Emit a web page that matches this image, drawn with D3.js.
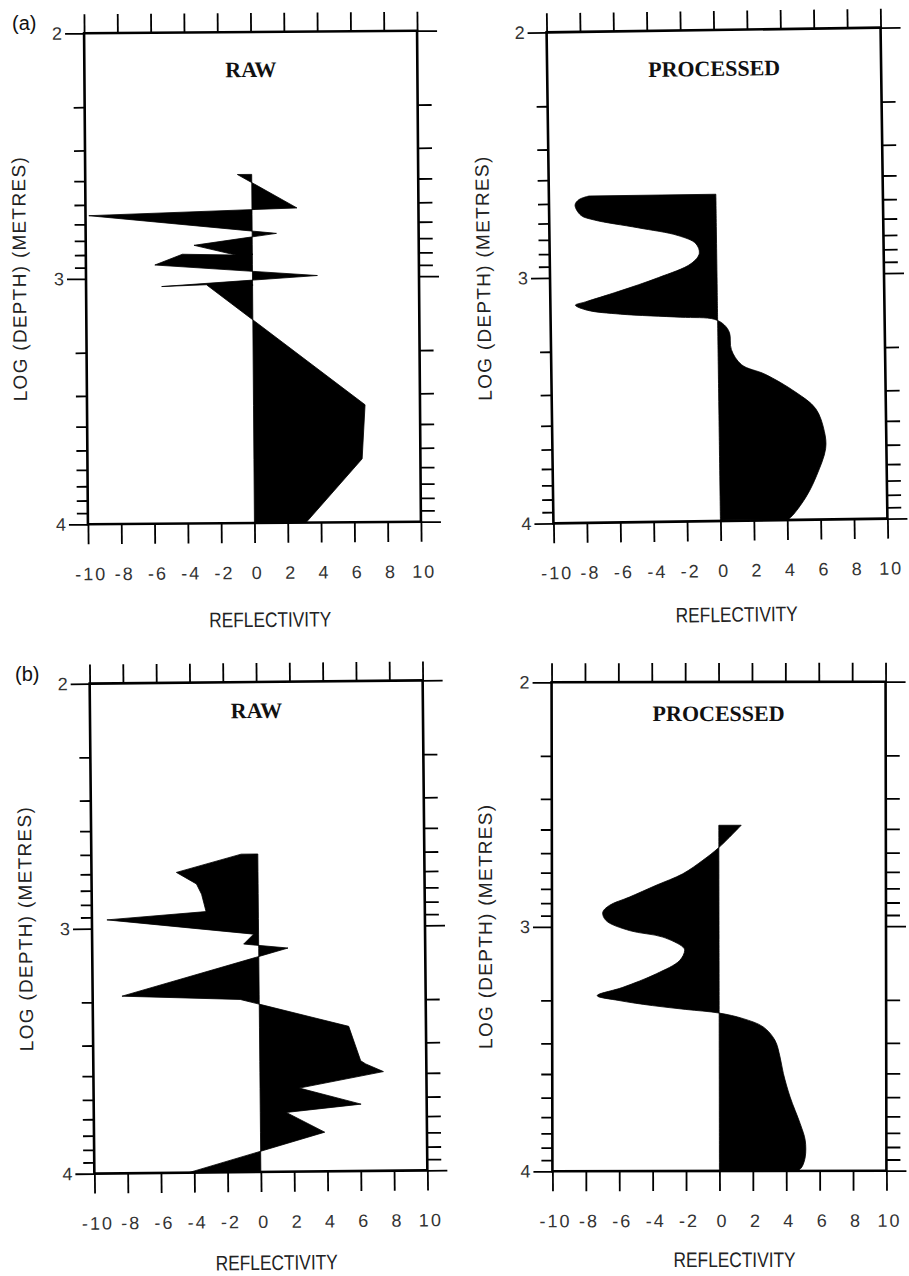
<!DOCTYPE html>
<html>
<head>
<meta charset="utf-8">
<script src="https://cdn.jsdelivr.net/npm/d3@7"></script>
<style>
  body { margin: 0; background: #fff; }
  svg { display: block; }
</style>
</head>
<body>
<div id="chart"></div>
<script>
(function (d3) {
    'use strict';

    // axis ticks
    var xTickVals = [-10, -8, -6, -4, -2, 0, 2, 4, 6, 8, 10];
    var xTickLabels = ['-10', '-8', '-6', '-4', '-2', '0', '2', '4', '6', '8', '10'];
    var yMajor = [2, 3, 4];
    var yMajorLabels = ['2', '3', '4'];
    var yDecades = [2, 3];
    var yMinorMult = [2, 3, 4, 5, 6, 7, 8, 9];

    // (a) raw reflectivity, log depth
    var rawADepth = [2.580, 2.718, 2.743, 2.821, 2.867, 2.908, 2.903, 2.946, 2.994, 3.034, 3.028, 3.522, 3.742, 4.000];
    var rawARefl  = [-0.86, 2.7, -9.8, 1.46, -3.5, -1.0, -4.2, -5.86, 3.9, -5.46, -2.77, 6.7, 6.5, 3.1];

    // (a) processed
    var procADepth = [2.669, 2.683, 2.705, 2.747, 2.767, 2.801, 2.835, 2.869, 2.909, 2.950, 3.005, 3.059, 3.100, 3.113,
        3.134, 3.152, 3.168, 3.178, 3.202, 3.234, 3.303, 3.365, 3.405, 3.479, 3.548, 3.642, 3.711, 3.820, 3.901, 3.976, 3.996];
    var procARefl  = [-7.6, -8.2, -8.44, -8.1, -7.3, -4.7, -2.3, -1.24, -1.04, -1.54, -3.5, -5.9, -7.9, -8.5,
        -7.8, -5.8, -2.2, -0.2, 0.4, 0.7, 0.8, 1.4, 2.8, 4.6, 5.8, 6.3, 6.36, 5.8, 5.2, 4.4, 4.1];

    // (b) raw
    var rawBDepth = [2.702, 2.774, 2.822, 2.864, 2.935, 2.965, 3.029, 3.069, 3.087, 3.277, 3.295, 3.409, 3.550, 3.563,
        3.595, 3.659, 3.727, 3.758, 3.840, 4.000];
    var rawBRefl  = [-1.0, -4.9, -3.7, -3.4, -3.14, -9.1, -0.3, -0.9, 1.76, -8.24, -1.14, 5.36, 6.06, 6.36,
        7.42, 2.36, 6.06, 1.56, 3.86, -4.34];

    // (b) processed
    var procBDepth = [2.586, 2.677, 2.729, 2.784, 2.831, 2.879, 2.913, 2.941, 2.975, 3.016, 3.043, 3.084, 3.098, 3.139,
        3.193, 3.248, 3.282, 3.302, 3.323, 3.339, 3.354, 3.377, 3.411, 3.466, 3.534, 3.602, 3.698, 3.807, 3.875,
        3.943, 3.984, 3.998];
    var procBRefl  = [1.34, 0, -0.96, -2.16, -3.76, -5.36, -6.56, -6.96, -6.76, -5.36, -3.36, -2.16, -2.06, -2.36,
        -3.76, -5.76, -7.3, -6.0, -4.0, -2.0, 0, 1.44, 2.64, 3.34, 3.64, 3.84, 4.24, 4.84, 5.14,
        5.14, 4.94, 4.74];

    var panels = [
        {left: 86,  right: 419, top: 32,  bottom: 523,  tilt: -0.45, title: 'RAW',       titleDy: 45, labelDy: 104, depth: rawADepth,  refl: rawARefl,  smooth: false},
        {left: 550, right: 884, top: 30,  bottom: 521,  tilt: -0.8,  title: 'PROCESSED', titleDy: 46, labelDy: 101, depth: procADepth, refl: procARefl, smooth: true},
        {left: 92,  right: 425, top: 682, bottom: 1172, tilt: -0.55, title: 'RAW',       titleDy: 36, labelDy: 98,  depth: rawBDepth,  refl: rawBRefl,  smooth: false},
        {left: 552, right: 886, top: 682, bottom: 1171, tilt: -0.1,  title: 'PROCESSED', titleDy: 39, labelDy: 96,  depth: procBDepth, refl: procBRefl, smooth: true}
    ];

    var letters = [
        {text: '(a)', x: 12, y: 30},
        {text: '(b)', x: 15, y: 681}
    ];

    var width = 909, height = 1276;
    var sans = '"Liberation Sans", Arial, Helvetica, sans-serif';

    var svg = d3.select('#chart').append('svg')
        .attr('width', width)
        .attr('height', height);

    svg.append('rect').attr('width', width).attr('height', height).attr('fill', '#fff');

    var minorVals = [];
    yDecades.forEach(function (dec) {
        yMinorMult.forEach(function (k) {
            minorVals.push(dec + Math.log10(k));
        });
    });

    function styleAxis(g) {
        g.select('.domain').remove();
        g.selectAll('.tick line').attr('stroke', '#000').attr('stroke-width', 1.8);
    }

    panels.forEach(function (p) {
        var cx = (p.left + p.right) / 2,
            cy = (p.top + p.bottom) / 2;

        var x = d3.scaleLinear().domain([-10, 10]).range([p.left, p.right]);
        var y = d3.scaleLinear().domain([2, 4]).range([p.top, p.bottom]);

        var g = svg.append('g')
            .attr('transform', 'rotate(' + p.tilt + ',' + cx + ',' + cy + ')');

        var rows = p.depth.map(function (dep, i) {
            return {depth: dep, refl: p.refl[i]};
        });

        var area = d3.area()
            .y(function (d) { return y(d.depth); })
            .x0(x(0))
            .x1(function (d) { return x(d.refl); })
            .curve(p.smooth ? d3.curveCatmullRom.alpha(0.5) : d3.curveLinear);

        g.append('path')
            .datum(rows)
            .attr('d', area)
            .attr('fill', '#000')
            .attr('stroke', '#000')
            .attr('stroke-width', 0.8)
            .attr('stroke-linejoin', 'miter');

        // ticks
        g.append('g')
            .attr('transform', 'translate(0,' + p.top + ')')
            .call(d3.axisTop(x).tickValues(xTickVals).tickSize(19).tickSizeOuter(0).tickFormat(''))
            .call(styleAxis);

        g.append('g')
            .attr('transform', 'translate(0,' + p.bottom + ')')
            .call(d3.axisBottom(x).tickValues(xTickVals).tickSize(20).tickSizeOuter(0).tickFormat(''))
            .call(styleAxis);

        g.append('g')
            .attr('transform', 'translate(' + p.left + ',0)')
            .call(d3.axisLeft(y).tickValues(minorVals).tickSize(11).tickSizeOuter(0).tickFormat(''))
            .call(styleAxis);

        g.append('g')
            .attr('transform', 'translate(' + p.left + ',0)')
            .call(d3.axisLeft(y).tickValues(yMajor).tickSize(19).tickSizeOuter(0).tickPadding(3)
                .tickFormat(function (d, i) { return yMajorLabels[i]; }))
            .call(styleAxis)
            .call(function (a) {
                a.selectAll('text')
                    .attr('fill', '#333')
                    .style('font-family', sans)
                    .style('font-size', '18px');
            });

        g.append('g')
            .attr('transform', 'translate(' + p.right + ',0)')
            .call(d3.axisRight(y).tickValues(minorVals).tickSize(14).tickSizeOuter(0).tickFormat(''))
            .call(styleAxis);

        g.append('g')
            .attr('transform', 'translate(' + p.right + ',0)')
            .call(d3.axisRight(y).tickValues(yMajor).tickSize(20).tickSizeOuter(0).tickFormat(''))
            .call(styleAxis);

        // frame
        g.append('rect')
            .attr('x', p.left)
            .attr('y', p.top)
            .attr('width', p.right - p.left)
            .attr('height', p.bottom - p.top)
            .attr('fill', 'none')
            .attr('stroke', '#000')
            .attr('stroke-width', 2.6);

        // x tick labels
        g.selectAll('text.xlab')
            .data(xTickVals)
            .enter()
            .append('text')
            .attr('class', 'xlab')
            .attr('x', function (d) { return x(d) + 3; })
            .attr('y', p.bottom + 56)
            .attr('text-anchor', 'middle')
            .attr('fill', '#333')
            .style('font-family', sans)
            .style('font-size', '18px')
            .style('letter-spacing', '2px')
            .text(function (d, i) { return xTickLabels[i]; });

        g.append('text')
            .attr('x', cx + 15)
            .attr('y', p.bottom + p.labelDy)
            .attr('text-anchor', 'middle')
            .attr('textLength', 122)
            .attr('lengthAdjust', 'spacingAndGlyphs')
            .attr('fill', '#222')
            .style('font-family', sans)
            .style('font-size', '21px')
            .text('REFLECTIVITY');

        g.append('text')
            .attr('transform', 'translate(' + (p.left - 60) + ',' + cy + ') rotate(-90)')
            .attr('text-anchor', 'middle')
            .attr('textLength', 244)
            .attr('lengthAdjust', 'spacing')
            .attr('fill', '#222')
            .style('font-family', sans)
            .style('font-size', '19px')
            .text('LOG (DEPTH) (METRES)');

        g.append('text')
            .attr('x', cx)
            .attr('y', p.top + p.titleDy)
            .attr('text-anchor', 'middle')
            .attr('fill', '#111')
            .style('font-family', '"Liberation Serif", "Times New Roman", serif')
            .style('font-weight', 'bold')
            .style('font-size', '22px')
            .text(p.title);
    });

    svg.selectAll('text.letter')
        .data(letters)
        .enter()
        .append('text')
        .attr('class', 'letter')
        .attr('x', function (d) { return d.x; })
        .attr('y', function (d) { return d.y; })
        .attr('fill', '#111')
        .style('font-family', sans)
        .style('font-size', '20px')
        .text(function (d) { return d.text; });

})(d3);
</script>
</body>
</html>
